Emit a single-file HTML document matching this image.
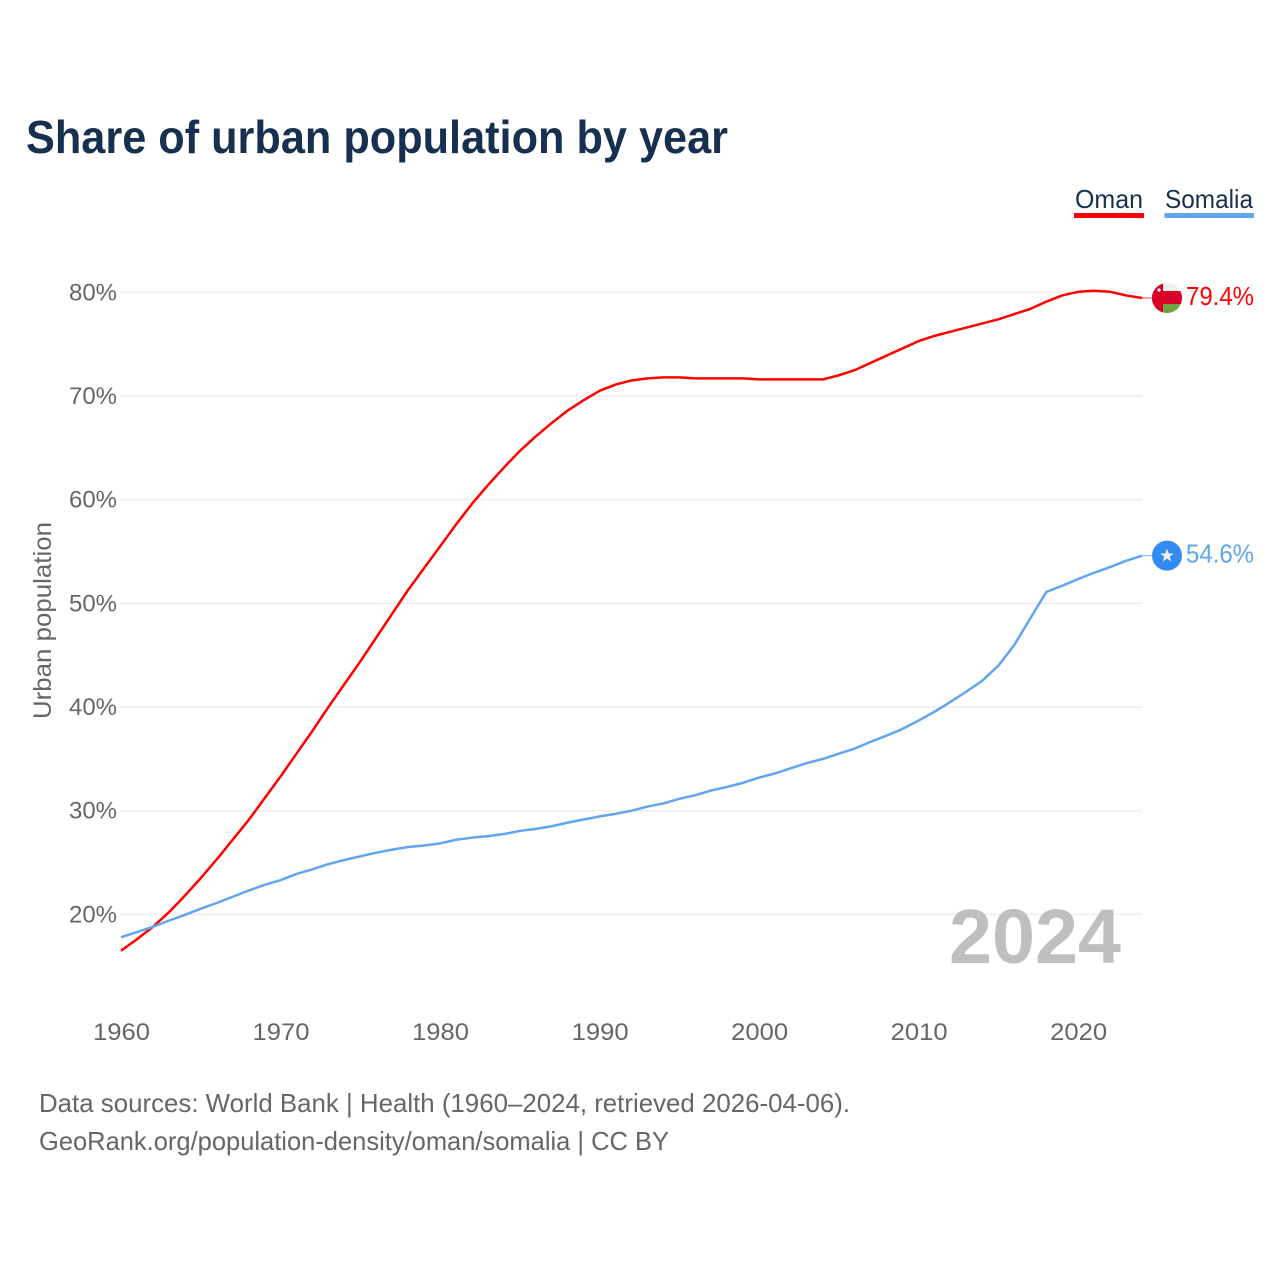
<!DOCTYPE html>
<html lang="en">
<head>
<meta charset="utf-8">
<title>Share of urban population by year</title>
<style>
  html, body { margin: 0; padding: 0; background: #fff; }
  svg { display: block; font-family: "Liberation Sans", sans-serif; }
</style>
</head>
<body>
<svg id="chart" xmlns="http://www.w3.org/2000/svg" width="1280" height="1280" viewBox="0 0 1280 1280">
  <rect x="0" y="0" width="1280" height="1280" fill="#ffffff"/>
  <text x="26" y="153" font-size="46" font-weight="700" fill="#17304f" textLength="702" lengthAdjust="spacingAndGlyphs">Share of urban population by year</text>

  <g>
    <g>
      <text x="1075" y="208" font-size="26" fill="#17304f" textLength="68" lengthAdjust="spacingAndGlyphs">Oman</text>
      <rect x="1074" y="213" width="70" height="5" fill="#ff0000"/>
    </g>
    <g>
      <text x="1165" y="208" font-size="26" fill="#17304f" textLength="88" lengthAdjust="spacingAndGlyphs">Somalia</text>
      <rect x="1164.5" y="213" width="89.5" height="5" fill="#60a5ee"/>
    </g>
  </g>

  <g id="grid"></g>
  <g id="y-ticks"></g>
  <g id="x-ticks"></g>

  <text transform="translate(51,620.5) rotate(-90)" text-anchor="middle" font-size="25" fill="#666666" textLength="197" lengthAdjust="spacingAndGlyphs">Urban population</text>

  <text x="949" y="963" font-size="77" font-weight="700" fill="#bfbfbf" textLength="172" lengthAdjust="spacingAndGlyphs">2024</text>

  <defs>
    <clipPath id="flag-clip"><circle cx="0" cy="0" r="15"/></clipPath>
  </defs>

  <g id="series"></g>

  <g id="flag-oman">
    <g clip-path="url(#flag-clip)">
      <rect x="-15" y="-15" width="30" height="30" fill="#eeeeee"/>
      <rect x="-4" y="5.5" width="19" height="10" fill="#6da544"/>
      <rect x="-15" y="-7" width="30" height="13" fill="#d80027"/>
      <rect x="-15" y="-15" width="11" height="30" fill="#d80027"/>
      <circle cx="-8" cy="-8" r="1.7" fill="#eeeeee"/>
    </g>
  </g>
  <g id="flag-somalia">
    <circle cx="0" cy="0" r="15" fill="#338af3"/>
    <polygon points="0,-7 1.8,-2.2 6.8,-2.2 2.8,0.9 4.3,5.8 0,2.9 -4.3,5.8 -2.8,0.9 -6.8,-2.2 -1.8,-2.2" fill="#f0f0f0"/>
  </g>

  <g id="value-labels"></g>

  <g>
    <text x="39" y="1112" font-size="26" fill="#666666" textLength="811" lengthAdjust="spacingAndGlyphs">Data sources: World Bank | Health (1960–2024, retrieved 2026-04-06).</text>
    <text x="39" y="1150" font-size="26" fill="#666666" textLength="630" lengthAdjust="spacingAndGlyphs">GeoRank.org/population-density/oman/somalia | CC BY</text>
  </g>
</svg>

<script>
const years = [1960,1961,1962,1963,1964,1965,1966,1967,1968,1969,1970,1971,1972,1973,1974,1975,1976,1977,1978,1979,1980,1981,1982,1983,1984,1985,1986,1987,1988,1989,1990,1991,1992,1993,1994,1995,1996,1997,1998,1999,2000,2001,2002,2003,2004,2005,2006,2007,2008,2009,2010,2011,2012,2013,2014,2015,2016,2017,2018,2019,2020,2021,2022,2023,2024];
const omanValues = [16.5,17.6,18.8,20.2,21.8,23.5,25.3,27.2,29.1,31.2,33.3,35.5,37.7,40.0,42.2,44.4,46.7,49.0,51.3,53.4,55.5,57.6,59.6,61.4,63.1,64.7,66.1,67.4,68.6,69.6,70.5,71.1,71.5,71.7,71.8,71.8,71.7,71.7,71.7,71.7,71.6,71.6,71.6,71.6,71.6,72.0,72.5,73.2,73.9,74.6,75.3,75.8,76.2,76.6,77.0,77.4,77.9,78.4,79.1,79.7,80.05,80.15,80.05,79.7,79.45];
const somaliaValues = [17.8,18.3,18.8,19.4,19.95,20.55,21.1,21.7,22.3,22.85,23.3,23.9,24.35,24.85,25.25,25.6,25.95,26.25,26.5,26.65,26.85,27.2,27.4,27.55,27.75,28.05,28.25,28.5,28.85,29.15,29.45,29.7,30.0,30.4,30.7,31.15,31.5,31.95,32.3,32.7,33.2,33.6,34.1,34.6,35.0,35.5,36.0,36.65,37.25,37.9,38.7,39.55,40.5,41.5,42.55,44.0,46.0,48.55,51.1,51.7,52.35,52.95,53.5,54.1,54.6];
const yTickValues = [20,30,40,50,60,70,80];
const yTickLabels = ['20%','30%','40%','50%','60%','70%','80%'];
const xTickValues = [1960,1970,1980,1990,2000,2010,2020];
const xTickLabels = ['1960','1970','1980','1990','2000','2010','2020'];
const printedValues = ['79.4%','54.6%'];

const SVG_NS = 'http://www.w3.org/2000/svg';
const xScale = function (year) { return 121 + (year - 1960) * 15.953; };
const yScale = function (value) { return 914.4 - (value - 20) * 10.368; };
const OMAN_COLOR = '#ff0000';
const SOMALIA_COLOR = '#60a5ee';
const FLAG_X = 1167;

function make(tag, parent) {
  const el = document.createElementNS(SVG_NS, tag);
  parent.appendChild(el);
  return el;
}

const gridGroup = document.getElementById('grid');
const yTickGroup = document.getElementById('y-ticks');
yTickValues.forEach(function (value, i) {
  const line = make('line', gridGroup);
  
  
  line.setAttribute('x1', 120);
  line.setAttribute('x2', 1142);
  line.setAttribute('y1', yScale(value));
  line.setAttribute('y2', yScale(value));
  line.setAttribute('stroke', '#eeeeee');
  line.setAttribute('stroke-width', 1.5);

  const label = make('text', yTickGroup);
  
  
  label.setAttribute('x', 117);
  label.setAttribute('y', yScale(value) + 8);
  label.setAttribute('text-anchor', 'end');
  label.setAttribute('font-size', 24.5);
  label.setAttribute('fill', '#666666');
  label.setAttribute('textLength', 48);
  label.setAttribute('lengthAdjust', 'spacingAndGlyphs');
  label.textContent = yTickLabels[i];
});

const xTickGroup = document.getElementById('x-ticks');
xTickValues.forEach(function (year, i) {
  const label = make('text', xTickGroup);
  
  
  label.setAttribute('x', xScale(year) + 0.5);
  label.setAttribute('y', 1040);
  label.setAttribute('text-anchor', 'middle');
  label.setAttribute('font-size', 24.5);
  label.setAttribute('fill', '#666666');
  label.setAttribute('textLength', 57);
  label.setAttribute('lengthAdjust', 'spacingAndGlyphs');
  label.textContent = xTickLabels[i];
});

const seriesGroup = document.getElementById('series');
function linePoints(values) {
  return values.map(function (value, i) {
    return xScale(years[i]).toFixed(2) + ',' + yScale(value).toFixed(2);
  }).join(' ');
}

const omanLine = make('polyline', seriesGroup);


omanLine.setAttribute('points', linePoints(omanValues));
omanLine.setAttribute('fill', 'none');
omanLine.setAttribute('stroke', OMAN_COLOR);
omanLine.setAttribute('stroke-width', 2.5);
omanLine.setAttribute('stroke-linejoin', 'round');

const somaliaLine = make('polyline', seriesGroup);


somaliaLine.setAttribute('points', linePoints(somaliaValues));
somaliaLine.setAttribute('fill', 'none');
somaliaLine.setAttribute('stroke', SOMALIA_COLOR);
somaliaLine.setAttribute('stroke-width', 2.5);
somaliaLine.setAttribute('stroke-linejoin', 'round');

const lastOman = omanValues[omanValues.length - 1];
const lastSomalia = somaliaValues[somaliaValues.length - 1];
const lastX = xScale(years[years.length - 1]);

const omanConnector = make('line', seriesGroup);


omanConnector.setAttribute('x1', lastX);
omanConnector.setAttribute('x2', FLAG_X);
omanConnector.setAttribute('y1', yScale(lastOman));
omanConnector.setAttribute('y2', yScale(lastOman));
omanConnector.setAttribute('stroke', '#ff8080');
omanConnector.setAttribute('stroke-width', 1.5);

const somaliaConnector = make('line', seriesGroup);


somaliaConnector.setAttribute('x1', lastX);
somaliaConnector.setAttribute('x2', FLAG_X);
somaliaConnector.setAttribute('y1', yScale(lastSomalia));
somaliaConnector.setAttribute('y2', yScale(lastSomalia));
somaliaConnector.setAttribute('stroke', '#a0c9f5');
somaliaConnector.setAttribute('stroke-width', 1.5);

document.getElementById('flag-oman').setAttribute('transform', 'translate(' + FLAG_X + ',' + yScale(lastOman) + ')');
document.getElementById('flag-somalia').setAttribute('transform', 'translate(' + FLAG_X + ',' + yScale(lastSomalia) + ')');

const valueLabelGroup = document.getElementById('value-labels');

const omanValueLabel = make('text', valueLabelGroup);


omanValueLabel.setAttribute('x', 1186);
omanValueLabel.setAttribute('y', yScale(lastOman) + 7);
omanValueLabel.setAttribute('font-size', 26);
omanValueLabel.setAttribute('fill', OMAN_COLOR);
omanValueLabel.setAttribute('textLength', 68);
omanValueLabel.setAttribute('lengthAdjust', 'spacingAndGlyphs');
omanValueLabel.textContent = printedValues[0];

const somaliaValueLabel = make('text', valueLabelGroup);


somaliaValueLabel.setAttribute('x', 1186);
somaliaValueLabel.setAttribute('y', yScale(lastSomalia) + 7);
somaliaValueLabel.setAttribute('font-size', 26);
somaliaValueLabel.setAttribute('fill', SOMALIA_COLOR);
somaliaValueLabel.setAttribute('textLength', 68);
somaliaValueLabel.setAttribute('lengthAdjust', 'spacingAndGlyphs');
somaliaValueLabel.textContent = printedValues[1];
</script>
</body>
</html>
